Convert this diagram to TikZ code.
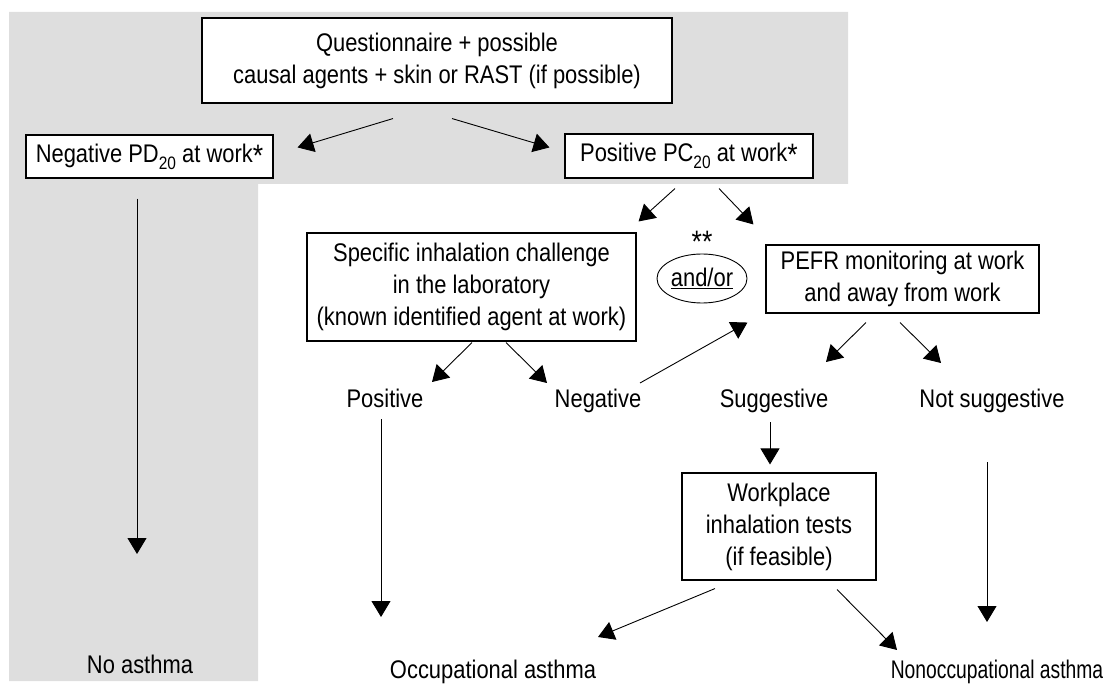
\documentclass[tikz,border=0pt]{standalone}
\usepackage{fontspec}
\setmainfont{Liberation Sans}[FakeStretch=0.86]
\usetikzlibrary{arrows.meta,shapes.geometric,calc}
\definecolor{bg}{RGB}{222,222,222}
\newcommand\mysub[1]{\raisebox{-0.28em}{\fontsize{18}{18}\selectfont #1}}
\newcommand\myast{\raisebox{-4pt}{\fontsize{31}{31}\selectfont *}}
\begin{document}
\begin{tikzpicture}[x=1pt,y=-1pt,
  font=\fontsize{25.5}{32}\selectfont,
  box/.style={draw=black, line width=1.1pt, fill=white, align=center, inner sep=0pt},
  arr/.style={line width=0.9pt, -{Triangle[length=16pt,width=19pt]}},
  lbl/.style={anchor=base, inner sep=0pt}]
\useasboundingbox (0,0) rectangle (1103,684);
\fill[bg] (9,12) -- (848,12) -- (848,184) -- (258,184) -- (258,681) -- (9,681) -- cycle;

\node[box, minimum width=470, minimum height=85] (q) at (437,60.5) {Questionnaire + possible\\causal agents + skin or RAST (if possible)};
\node[box, minimum width=247, minimum height=43] (neg) at (149.5,156.5) {Negative PD\mysub{20} at work\myast};
\node[box, minimum width=248, minimum height=44] (pos) at (689,156) {Positive PC\mysub{20} at work\myast};
\node[box, minimum width=329, minimum height=108] (sic) at (471.5,287) {Specific inhalation challenge\\in the laboratory\\(known identified agent at work)};
\node[draw, ellipse, line width=0.9pt, minimum width=90, minimum height=49, inner sep=0pt] (andor) at (702,278.5) {\underline{and/or}};
\node[inner sep=0pt] (stars) at (702,242) {\myast\myast};
\node[box, minimum width=273, minimum height=68] (pefr) at (902.5,279) {PEFR monitoring at work\\and away from work};
\node[lbl] (posres) at (385,408) {Positive};
\node[lbl] (negres) at (598,407) {Negative};
\node[lbl] (sugg) at (774,407) {Suggestive};
\node[lbl] (notsugg) at (992,407) {Not suggestive};
\node[box, minimum width=194, minimum height=107] (wp) at (779,526.5) {Workplace\\inhalation tests\\(if feasible)};
\node[lbl] (noasth) at (140,673) {No asthma};
\node[lbl] (occ) at (493,678) {Occupational asthma};
\node[lbl] (nonocc) at (997,678) {\scalebox{0.88}[1]{Nonoccupational asthma}};

\draw[arr] ($(q.south)+(-44,15)$) -- ($(neg.north east)+(24,13)$);
\draw[arr] ($(q.south)+(15,15)$) -- ($(pos.north west)+(-15,14)$);
\draw[arr] ($(neg.south)+(-12.5,20)$) -- ($(noasth.base)+(-3,-119)$);
\draw[arr] ($(pos.south)+(-14,10)$) -- ($(sic.north east)+(2,-11)$);
\draw[arr] ($(pos.south)+(30,10)$) -- ($(pefr.north west)+(-12,-20)$);
\draw[arr] ($(sic.south)+(0.5,1)$) -- ($(posres.base)+(47,-26)$);
\draw[arr] ($(sic.south)+(34.5,1)$) -- ($(negres.base)+(-51,-24)$);
\draw[arr] ($(negres.base)+(42,-24)$) -- ($(pefr.south west)+(-18,9)$);
\draw[arr] ($(pefr.south)+(-36.5,9)$) -- ($(sugg.base)+(52,-45)$);
\draw[arr] ($(pefr.south)+(-2.5,9)$) -- ($(notsugg.base)+(-51,-44)$);
\draw[arr] ($(sugg.base)+(-4,15)$) -- ($(wp.north)+(-9,-8)$);
\draw[arr] ($(posres.base)+(-4,11)$) -- ($(occ.base)+(-112,-61)$);
\draw[arr] ($(wp.south)+(-64,8)$) -- ($(occ.base)+(105,-41)$);
\draw[arr] ($(wp.south)+(58,9)$) -- ($(nonocc.base)+(-100,-28)$);
\draw[arr] ($(notsugg.base)+(-5,55)$) -- ($(nonocc.base)+(-10,-56)$);
\end{tikzpicture}
\end{document}
